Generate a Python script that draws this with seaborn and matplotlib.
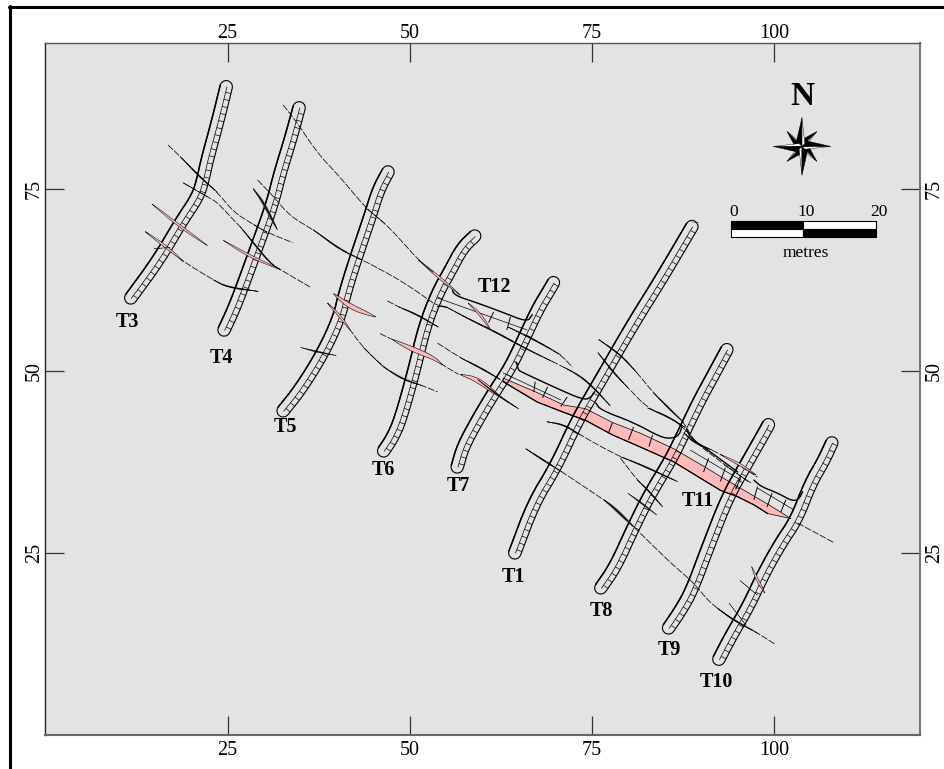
import numpy as np
import matplotlib
matplotlib.use("Agg")
import matplotlib.pyplot as plt
from matplotlib.collections import LineCollection
from matplotlib.lines import Line2D
import seaborn as sns

# trench centre lines, south end first (metres, local grid)
t1 = [(64.4, 25.0), (67.0, 31.9), (70.0, 36.8), (73.0, 43.3), (76.2, 48.8), (80.7, 56.6), (84.4, 62.5), (88.7, 69.8)]
t3 = [(11.7, 60.0), (15.5, 65.2), (18.5, 70.3), (20.9, 73.9), (21.6, 76.2), (22.2, 79.0), (23.6, 84.1), (24.8, 89.0)]
t4 = [(24.5, 55.6), (25.8, 58.4), (27.0, 61.5), (29.0, 67.0), (31.1, 72.8), (32.2, 77.2), (33.6, 81.7), (34.8, 86.1)]
t5 = [(32.6, 44.5), (35.0, 47.5), (38.1, 52.5), (40.3, 57.3), (41.1, 60.7), (42.5, 65.2), (44.6, 71.4), (45.7, 74.9), (47.0, 77.3)]
t6 = [(46.4, 39.0), (47.6, 40.8), (48.7, 43.3), (50.6, 50.1), (52.0, 56.0), (53.8, 60.7), (55.6, 63.9), (57.2, 66.9), (58.9, 68.5)]
t7 = [(56.5, 36.8), (57.3, 39.6), (59.3, 43.3), (61.5, 47.0), (63.8, 50.5), (65.6, 54.3), (67.5, 58.4), (69.0, 60.9), (69.7, 62.1)]
t8 = [(76.2, 20.2), (78.2, 23.1), (80.7, 28.6), (83.0, 33.2), (85.8, 37.8), (87.6, 41.5), (89.6, 45.7), (91.5, 49.2), (93.5, 52.9)]
t9 = [(85.5, 14.7), (87.2, 17.2), (88.7, 19.9), (90.9, 25.8), (93.6, 32.7), (96.1, 37.1), (98.6, 41.5), (99.2, 42.6)]
t10 = [(92.4, 10.4), (94.0, 13.5), (96.4, 17.6), (98.6, 22.3), (100.9, 26.4), (103.0, 29.5), (105.0, 34.6), (106.7, 37.5), (107.9, 40.1)]
trenches = [t1, t3, t4, t5, t6, t7, t8, t9, t10]

# cross cuts T11 and T12, wall sections between the long trenches
t11_wall_a = [(64.6, 51.2), (64.9, 50.1), (65.2, 49.9), (69.7, 47.8), (73.8, 46.0), (74.8, 46.3), (75.3, 47.1)]
t11_wall_b = [(75.5, 45.6), (76.2, 44.6), (80.7, 42.9), (84.4, 40.9), (85.8, 40.7), (86.9, 41.1), (87.3, 42.2)]
t11_wall_c = [(88.0, 41.9), (88.5, 40.8), (90.9, 39.1), (95.0, 36.1)]
t11_wall_d = [(97.2, 35.0), (98.2, 34.1), (100.5, 33.2), (102.5, 32.1), (103.4, 32.4), (103.9, 33.4)]
t12_wall_a = [(55.8, 61.4), (56.0, 60.4), (59.3, 59.3), (62.8, 58.0), (66.1, 56.7), (66.8, 57.7)]
t12_wall_b = [(53.8, 58.8), (54.3, 58.9), (55.1, 58.7)]
cut_walls = [t11_wall_a, t11_wall_b, t11_wall_c, t11_wall_d, t12_wall_a, t12_wall_b]

cut_mid_lines = [
    [(62.8, 49.7), (70.7, 46.0)],
    [(88.5, 39.1), (95.4, 35.0)],
    [(97.7, 33.9), (102.7, 30.9)],
    [(53.8, 60.0), (66.1, 55.6)],
]
cut_rungs = [
    [(67.2, 48.5), (67.0, 47.1)], [(68.9, 47.8), (68.2, 46.3)], [(71.6, 46.4), (70.7, 45.1)],
    [(77.8, 42.9), (77.3, 41.6)], [(80.7, 42.3), (80.0, 40.5)], [(83.3, 41.2), (82.8, 39.6)],
    [(91.0, 38.0), (90.3, 36.1)], [(93.3, 36.7), (92.6, 34.8)], [(95.4, 35.4), (94.7, 33.7)],
    [(97.7, 34.1), (97.2, 32.3)], [(99.7, 33.2), (99.0, 31.3)], [(101.6, 32.3), (100.9, 30.6)],
    [(61.5, 58.1), (60.8, 56.6)], [(63.8, 57.4), (63.3, 55.6)],
]

# main pink fault zone along T11
zone_upper = [(62.8, 49.0), (67.5, 47.0), (71.1, 45.3), (74.1, 44.8), (77.8, 42.9), (81.7, 41.4), (86.2, 39.3),
              (90.3, 36.9), (92.6, 35.5), (95.0, 34.1), (97.2, 32.8), (99.1, 31.7), (102.3, 29.7)]
zone_lower = [(99.1, 30.4), (97.2, 31.6), (95.0, 32.7), (92.6, 33.6), (90.3, 35.0), (86.2, 37.5), (81.7, 39.5),
              (77.8, 41.2), (74.1, 43.2), (71.1, 44.3), (67.5, 45.7), (62.8, 48.5)]

# fault traces
fault_a = [(16.8, 81.0), (18.5, 79.4), (21.2, 76.6), (23.6, 74.5), (25.8, 71.8), (28.5, 70.1), (30.4, 69.0), (33.9, 67.6)]
fault_b = [(18.9, 75.8), (22.2, 73.9), (23.6, 73.1), (25.8, 70.7), (26.7, 69.8), (28.5, 67.6), (30.8, 64.8), (32.2, 63.9), (36.3, 61.5)]
fault_c = [(14.6, 72.9), (18.5, 69.8), (22.2, 67.2)]
fault_d = [(13.7, 69.1), (17.1, 66.6), (18.9, 65.0), (23.0, 62.5), (24.9, 61.5), (29.2, 60.9)]
fault_e = [(14.9, 66.8), (17.1, 66.9)]
fault_f = [(24.4, 67.9), (28.1, 65.7), (32.2, 63.9)]
fault_g = [(28.5, 75.0), (29.9, 73.1), (31.8, 69.4)]
fault_h = [(29.1, 76.2), (31.3, 73.9), (33.6, 71.2), (36.7, 69.4), (40.5, 66.6), (43.5, 65.2), (47.3, 63.2), (50.1, 61.5), (53.2, 59.3)]
fault_i = [(32.6, 86.5), (34.5, 84.1), (37.3, 79.9), (40.5, 76.5), (43.9, 72.4), (46.6, 70.2), (48.7, 68.0), (51.2, 65.2), (53.2, 63.5), (55.6, 61.5), (56.9, 60.4)]
fault_j = [(50.5, 61.5), (53.1, 59.5)]
fault_k = [(39.5, 60.6), (41.8, 58.8), (45.3, 57.4)]
fault_l = [(38.7, 59.3), (40.5, 57.4), (41.8, 55.6), (43.6, 53.2), (46.4, 50.5), (49.1, 48.8), (51.9, 47.9), (53.8, 47.1)]
fault_m = [(35.0, 53.2), (37.3, 52.6), (39.9, 52.1)]
fault_n = [(46.9, 59.6), (48.4, 58.8), (51.0, 57.7), (53.9, 56.0)]
fault_o = [(45.9, 55.1), (47.6, 54.3), (50.5, 52.9), (53.2, 51.8), (54.5, 50.8), (56.7, 49.5)]
fault_p = [(53.8, 53.8), (56.9, 51.8), (59.7, 50.4), (62.4, 48.8)]
fault_q = [(56.9, 49.5), (59.3, 48.8), (62.4, 46.4), (64.9, 44.8)]
fault_r = [(55.1, 58.7), (58.3, 57.0), (62.0, 55.2), (65.6, 53.2), (69.7, 51.2), (71.1, 50.5), (73.0, 49.5), (74.8, 48.1), (77.5, 45.2)]
fault_s = [(63.5, 56.0), (67.0, 54.3), (70.7, 52.2), (72.3, 50.5)]
fault_t = [(75.9, 54.3), (78.9, 52.2), (81.2, 49.7), (83.4, 47.0), (86.2, 44.2), (87.6, 42.9), (88.9, 40.5), (91.3, 38.5), (96.4, 34.8)]
fault_u = [(75.8, 52.5), (78.0, 49.7), (79.9, 47.7), (82.6, 44.9), (85.4, 43.7), (87.8, 42.2)]
fault_v = [(87.6, 41.5), (88.9, 40.2), (91.5, 39.1), (94.0, 37.8), (97.7, 35.4)]
fault_w = [(65.9, 39.3), (69.3, 37.1), (70.9, 36.1), (76.6, 32.3), (77.9, 31.3), (80.7, 28.6), (85.4, 24.0), (87.2, 22.4),
           (88.9, 20.9), (90.9, 18.5), (92.2, 17.4), (94.4, 15.8), (97.7, 14.0), (100.2, 12.4)]
fault_x = [(68.8, 43.0), (71.1, 42.6), (73.4, 41.2), (76.2, 39.6), (78.9, 38.2), (81.7, 37.1), (86.7, 34.8)]
fault_y = [(78.9, 38.0), (81.2, 35.0), (82.6, 33.7), (84.7, 31.3)]
fault_z = [(79.9, 33.2), (82.1, 31.6), (84.0, 30.1)]
fault_aa = [(96.9, 23.1), (97.5, 21.7), (97.9, 20.9), (98.7, 19.5)]
fault_ab = [(95.3, 21.2), (97.7, 19.2)]
fault_ac = [(93.8, 18.1), (96.1, 15.1)]
fault_ad = [(103.2, 29.1), (108.2, 26.4)]
fault_ae = [(86.5, 43.0), (87.8, 41.9)]
fault_af = [(93.1, 37.1), (96.8, 34.6)]

thin_traces = [fault_a, fault_b, fault_d, fault_h, fault_i, fault_l, fault_n, fault_o, fault_p, fault_q, fault_r,
               fault_s, fault_t, fault_u, fault_v, fault_w, fault_x, fault_y, fault_ad]

black_runs = [fault_a[1:4], fault_a[5:7], fault_b[:2], fault_b[4:8], fault_d[3:6], fault_e, fault_g, fault_h[3:6],
              fault_i[4:6], fault_i[7:9], fault_j, fault_l[3:5], fault_l[4:7], fault_m, fault_n[1:4], fault_p[1:4], fault_q[1:4],
              fault_r[:5], fault_r[5:9], fault_s[:3], fault_t[:3], fault_t[3:6], fault_u[:3], fault_u[3:6], fault_v[:3],
              fault_w[:3], fault_w[3:6], fault_w[8:10], fault_w[10:13], fault_x[:3], fault_x[4:7], fault_y[1:4],
              fault_z, fault_ab, fault_ac, fault_ae, fault_af]

pink_big = [fault_k, fault_o[1:5], fault_q[:3]]
pink_small = [fault_c[:3], fault_d[:3], fault_f, fault_i[7:11], fault_g[:3], fault_aa, fault_w[3:6], fault_w[10:12],
              [(92.6, 38.5), (95.4, 37.1), (97.5, 35.7)], [(58.0, 59.3), (59.7, 57.7), (61.1, 55.6)], fault_l[:3]]

# text
tick_values = [25, 50, 75, 100]
ytick_values = [25, 50, 75]
label_names = ["T3", "T4", "T5", "T6", "T7", "T1", "T8", "T9", "T10", "T11", "T12"]
label_x = [11.2, 24.2, 32.9, 46.4, 56.7, 64.2, 76.3, 85.6, 92.0, 89.5, 61.6]
label_y = [56.7, 51.8, 42.3, 36.4, 34.2, 21.7, 17.0, 11.7, 7.3, 32.1, 61.5]

# scale bar and north mark
bar_edges = [94, 104, 114]
bar_labels = ["0", "10", "20"]

sns.set_theme(style="ticks")
plt.rcParams["font.family"] = ["Liberation Serif", "DejaVu Serif"]

PINK = "#FFB9B9"
fig = plt.figure(figsize=(9.45, 7.69), dpi=100)
ax = fig.add_axes([45.5 / 945, 1 - 735 / 769, 874.5 / 945, 692 / 769])
ax.set_facecolor("#E3E3E3")


def line(pts, **kw):
    xs, ys = zip(*pts)
    sns.lineplot(x=list(xs), y=list(ys), sort=False, estimator=None, errorbar=None, legend=False, ax=ax, **kw)


def smooth(pts, rounds=2):
    p = np.array(pts, dtype=float)
    if len(p) < 3:
        return p
    for _ in range(rounds):
        q = 0.75 * p[:-1] + 0.25 * p[1:]
        r = 0.25 * p[:-1] + 0.75 * p[1:]
        mid = np.empty((len(q) * 2, 2))
        mid[0::2] = q
        mid[1::2] = r
        p = np.vstack([p[0], mid, p[-1]])
    return p


def normals(p):
    d = np.gradient(p, axis=0)
    d /= np.maximum(np.hypot(d[:, 0], d[:, 1]), 1e-9)[:, None]
    return np.column_stack([-d[:, 1], d[:, 0]]), d


def lens(pts, peak, color, edge="black", z=4, edge_lw=0.4):
    p = smooth(pts)
    n, _ = normals(p)
    s = np.r_[0, np.cumsum(np.hypot(*np.diff(p, axis=0).T))]
    w = peak * np.sin(np.pi * s / s[-1]) ** 0.8 / 2
    poly = np.vstack([p + n * w[:, None], (p - n * w[:, None])[::-1]])
    ax.fill(poly[:, 0], poly[:, 1], facecolor=color, edgecolor=edge, linewidth=edge_lw, zorder=z)


def trench(pts, half=0.85, mid_off=-0.1):
    p = smooth(pts)
    n, t = normals(p)
    th = np.linspace(0, np.pi, 9)[:, None]
    top = p[-1] + half * (n[-1] * np.cos(th) + t[-1] * np.sin(th))
    bot = p[0] - half * (n[0] * np.cos(th) + t[0] * np.sin(th))
    left = p + n * half
    right = p - n * half
    outline = np.vstack([left, top, right[::-1], bot])
    line(outline, color="black", linewidth=0.8, zorder=3)
    line(left, color="black", linewidth=1.1, zorder=3)
    midl = p + n * mid_off
    line(midl, color="black", linewidth=0.5, zorder=3)
    # ladder, one rung a metre
    s = np.r_[0, np.cumsum(np.hypot(*np.diff(p, axis=0).T))]
    at = np.arange(0.5, s[-1], 1.0)
    a = np.column_stack([np.interp(at, s, midl[:, 0]), np.interp(at, s, midl[:, 1])])
    b = np.column_stack([np.interp(at, s, right[:, 0]), np.interp(at, s, right[:, 1])])
    ax.add_collection(LineCollection(np.stack([a, b], axis=1), colors="black", linewidths=0.5, zorder=3))


for path in trenches:
    trench(path)

# pink zone under the walls
zx, zy = zip(*(zone_upper + zone_lower))
ax.fill(zx, zy, facecolor=PINK, edgecolor="black", linewidth=0.5, zorder=2.5)
line(zone_lower, color="black", linewidth=0.9, zorder=3)

for wall in cut_walls:
    line(smooth(wall), color="black", linewidth=1.0, zorder=3)
for mid in cut_mid_lines:
    line(mid, color="black", linewidth=0.5, zorder=3)
ax.add_collection(LineCollection(cut_rungs, colors="black", linewidths=0.7, zorder=3))

for trace in thin_traces:
    line(smooth(trace), color="black", linewidth=0.55, linestyle=(0, (9, 2)), zorder=3.5)
line([(88.7, 70.4), (89.6, 70.4)], color="black", linewidth=0.5, linestyle=(0, (1, 1)))

for run in pink_big:
    lens(run, 0.62, PINK)
for run in pink_small:
    lens(run, 0.3, PINK, edge_lw=0.35)
for run in black_runs:
    lens(run, 0.16, "black", edge_lw=0.25)

for name, lx, ly in zip(label_names, label_x, label_y):
    ax.text(lx, ly, name, ha="center", va="center", fontsize=14.5, fontweight="bold", color="black")

# north star, diagonals behind the long arms
cx, cy = 103.8, 80.8
arms = [(a, 2.9, 0.95, 0.45) for a in np.arange(45, 360, 90)] + [(a, 3.95, 1.05, 0.55) for a in np.arange(0, 360, 90)]
for ang, r, wide, narrow in arms:
    a = np.deg2rad(ang)
    tip = (cx + r * np.cos(a), cy + r * np.sin(a))
    s1 = (cx + wide * np.cos(a + np.pi / 4), cy + wide * np.sin(a + np.pi / 4))
    s2 = (cx + narrow * np.cos(a - np.pi / 4), cy + narrow * np.sin(a - np.pi / 4))
    ax.fill([cx, tip[0], s2[0]], [cy, tip[1], s2[1]], facecolor="white", edgecolor="black", linewidth=0.3, zorder=5)
    ax.fill([cx, tip[0], s1[0]], [cy, tip[1], s1[1]], facecolor="black", edgecolor="black", linewidth=0.3, zorder=5)
ax.text(103.8, 87.7, "N", ha="center", va="center", fontsize=24, fontweight="bold", color="black")

# scale bar
bar_y = [70.5, 69.4, 68.3]
for i, fc_top, fc_bot in [(0, "black", "white"), (1, "white", "black")]:
    ax.fill_between(bar_edges[i:i + 2], bar_y[1], bar_y[0], facecolor=fc_top, edgecolor="black", linewidth=0.8, zorder=5)
    ax.fill_between(bar_edges[i:i + 2], bar_y[2], bar_y[1], facecolor=fc_bot, edgecolor="black", linewidth=0.8, zorder=5)
for xx, lab in zip(bar_edges, bar_labels):
    ax.text(xx + 0.4, 71.3, lab, ha="center", va="baseline", fontsize=12.5, color="black")
ax.text(104.4, 66.2, "metres", ha="center", va="center", fontsize=12.5, color="black")

ax.set_xlim(0, 120)
ax.set_ylim(0, 95)
ax.set_xticks(tick_values)
ax.set_yticks(ytick_values)
ax.tick_params(axis="both", which="major", top=True, right=True, direction="in",
               length=13.5, width=0.9, color="#333333", labelsize=14.5, labelcolor="black")
ax.tick_params(axis="x", pad=4.2)
ax.tick_params(axis="y", pad=1.0, labelrotation=90)
for tick in ax.get_yticklabels():
    tick.set_va("center")

# the labels on the top and right sit closer than matplotlib's shared pad allows
top_ax = ax.secondary_xaxis("top")
top_ax.set_xticks(tick_values)
top_ax.tick_params(length=0, pad=0.0, labelsize=14.5, labelcolor="black")
right_ax = ax.secondary_yaxis("right")
right_ax.set_yticks(ytick_values)
right_ax.tick_params(length=0, pad=3.5, labelsize=14.5, labelcolor="black", labelrotation=90)
for tick in right_ax.get_yticklabels():
    tick.set_va("center")
for extra in (top_ax, right_ax):
    for sp in extra.spines.values():
        sp.set_visible(False)

for side, lw, col in [("left", 1.0, "#222222"), ("bottom", 1.5, "#666666"), ("top", 1.0, "#555555"), ("right", 1.5, "#777777")]:
    ax.spines[side].set_visible(True)
    ax.spines[side].set_linewidth(lw)
    ax.spines[side].set_color(col)

# sheet border
fig.add_artist(Line2D([10 / 945, 10 / 945], [0, 1 - 6 / 769], color="black", linewidth=2.2))
fig.add_artist(Line2D([9 / 945, 1], [1 - 7 / 769, 1 - 7 / 769], color="black", linewidth=2.2))

fig.savefig("out.png", dpi=100)
